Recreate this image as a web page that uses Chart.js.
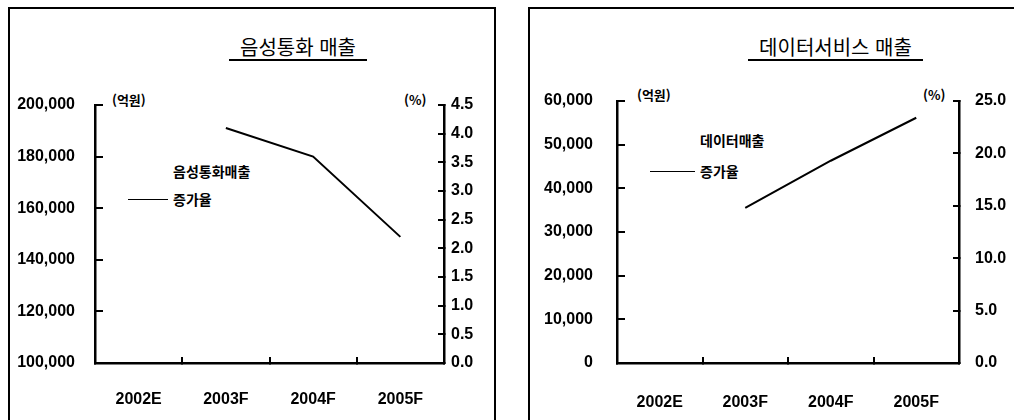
<!DOCTYPE html>
<html lang="ko">
<head>
<meta charset="utf-8">
<script src="https://cdn.jsdelivr.net/npm/chart.js@4/dist/chart.umd.min.js"></script>
<style>
    html, body { margin: 0; padding: 0; background: #fff; }
    body { width: 1014px; height: 420px; position: relative; overflow: hidden; font-family: "Liberation Sans", Arial, sans-serif; }
    .panel { position: absolute; top: 7px; height: 440px; border: 2.5px solid #000; border-bottom: none; box-sizing: border-box; }
    .title { position: absolute; top: 34px; font: 20px "Noto Sans CJK KR", sans-serif; line-height: 25px; text-align: center; border-bottom: 2.5px solid #000; color: #000; }
    .unit { position: absolute; font: bold 13px "Noto Sans CJK KR", sans-serif; line-height: 16px; color: #000; }
    .legend { position: absolute; font: bold 14px "Noto Sans CJK KR", sans-serif; color: #000; }
    .legend .row { display: flex; align-items: center; height: 20px; }
    .legend .swatch { height: 0; margin-right: 5px; }
    canvas { position: absolute; top: 0; }
</style>
</head>
<body>
<div class="panel" style="left:8px; width:488px;"></div>
<div class="panel" style="left:528px; width:500px;"></div>

<div class="title" id="title-voice" style="left:229px; width:138px;"></div>
<div class="title" id="title-data" style="left:748px; width:175px;"></div>

<div class="unit" style="left:112px; top:92px;">(억원)</div>
<div class="unit" style="left:404px; top:92px;">(%)</div>
<div class="unit" style="left:637px; top:87px;">(억원)</div>
<div class="unit" style="left:923px; top:87px;">(%)</div>

<div class="legend" id="legend-voice" style="left:128px; top:161px;"></div>
<div class="legend" id="legend-data" style="left:650px; top:130px;"></div>

<canvas id="chart-voice" width="500" height="420" style="left:0;"></canvas>
<canvas id="chart-data" width="514" height="420" style="left:500px;"></canvas>

<script>
// Data
const years = ['2002E', '2003F', '2004F', '2005F'];

const voiceTitle = '음성통화 매출';
const voiceLabels = ['음성통화매출', '증가율'];
const voiceGrowth = [null, 4.1, 3.6, 2.2];
const voiceSalesTicks = [100000, 120000, 140000, 160000, 180000, 200000];
const voiceGrowthTicks = [0, 0.5, 1, 1.5, 2, 2.5, 3, 3.5, 4, 4.5];

const dataTitle = '데이터서비스 매출';
const dataLabels = ['데이터매출', '증가율'];
const dataGrowth = [null, 14.8, 19.3, 23.4];
const dataSalesTicks = [0, 10000, 20000, 30000, 40000, 50000, 60000];
const dataGrowthTicks = [0, 5, 10, 15, 20, 25];

const tickFont = { family: '"Liberation Sans", Arial, sans-serif', size: 16, weight: 'bold' };

// Build one chart panel
function makeChart(canvasId, opts) {
    const ctx = document.getElementById(canvasId).getContext('2d');
    const leftT = opts.leftTicks, rightT = opts.rightTicks;

    return new Chart(ctx, {
        type: 'bar',
        data: {
            labels: years,
            datasets: [
                { type: 'bar', label: opts.labels[0], data: [], yAxisID: 'y' },
                {
                    type: 'line', label: opts.labels[1], data: opts.growth, yAxisID: 'y1',
                    borderColor: '#000', borderWidth: 2, pointRadius: 0, tension: 0, fill: false
                }
            ]
        },
        options: {
            responsive: false,
            animation: false,
            layout: { padding: { top: opts.top, left: 0, right: 0, bottom: 0 } },
            plugins: { legend: { display: false }, tooltip: { enabled: false }, title: { display: false } },
            scales: {
                x: {
                    offset: true,
                    grid: { offset: true, drawOnChartArea: false, tickLength: -6, color: '#000', lineWidth: 2 },
                    border: { color: '#000', width: 2.5 },
                    ticks: { color: '#000', font: tickFont, padding: opts.xPad },
                    afterFit: s => { s.height = 420 - opts.bottom; }
                },
                y: {
                    position: 'left',
                    min: leftT[0], max: leftT[leftT.length - 1],
                    grid: { drawOnChartArea: false, tickLength: -8, color: '#000', lineWidth: 2 },
                    border: { color: '#000', width: 2.5 },
                    ticks: {
                        color: '#000', font: tickFont, padding: opts.leftPad,
                        stepSize: leftT[1] - leftT[0],
                        callback: v => v.toLocaleString('en-US')
                    },
                    afterFit: s => { s.width = opts.left; }
                },
                y1: {
                    position: 'right',
                    min: rightT[0], max: rightT[rightT.length - 1],
                    grid: { drawOnChartArea: false, tickLength: -6, color: '#000', lineWidth: 2 },
                    border: { color: '#000', width: 2.5 },
                    ticks: {
                        color: '#000', font: tickFont, padding: opts.rightPad,
                        stepSize: rightT[1] - rightT[0],
                        callback: v => v.toFixed(1)
                    },
                    afterFit: s => { s.width = opts.width - opts.right; }
                }
            }
        }
    });
}

// HTML legend from the chart's datasets
function renderLegend(chart, elId, swatchW, rowGap) {
    const el = document.getElementById(elId);
    el.innerHTML = chart.data.datasets.map((ds, i) => `
        <div class="row" style="margin-top:${i ? rowGap : 0}px">
            <span class="swatch" style="width:${swatchW}px; border-top:${ds.type === 'line' ? '1px solid #000' : 'none'}"></span>
            <span>${ds.label}</span>
        </div>
    `).join('');
}

document.getElementById('title-voice').textContent = voiceTitle;
document.getElementById('title-data').textContent = dataTitle;

const voiceChart = makeChart('chart-voice', {
    labels: voiceLabels, growth: voiceGrowth,
    leftTicks: voiceSalesTicks, rightTicks: voiceGrowthTicks,
    top: 105, bottom: 363, left: 95, right: 444, width: 500,
    leftPad: 28, rightPad: 13, xPad: 33
});

const dataChart = makeChart('chart-data', {
    labels: dataLabels, growth: dataGrowth,
    leftTicks: dataSalesTicks, rightTicks: dataGrowthTicks,
    top: 101, bottom: 363, left: 117, right: 459, width: 514,
    leftPad: 32, rightPad: 22, xPad: 36
});

renderLegend(voiceChart, 'legend-voice', 40, 8);
renderLegend(dataChart, 'legend-data', 45, 11);
</script>
</body>
</html>
